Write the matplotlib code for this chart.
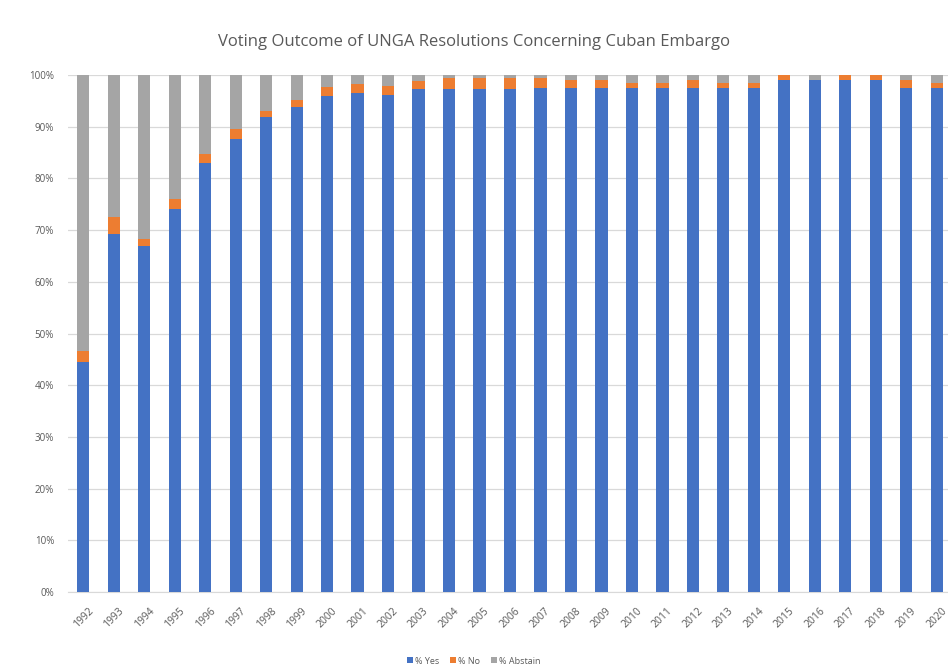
import matplotlib
matplotlib.use("Agg")
import matplotlib.pyplot as plt
import numpy as np

years = [str(y) for y in range(1992, 2021)]
pct_yes = [44.4, 69.3, 66.9, 74.1, 83.0, 87.7, 91.8, 93.9, 96.0, 96.5,
           96.1, 97.3, 97.3, 97.3, 97.3, 97.4, 97.4, 97.4, 97.4, 97.4,
           97.4, 97.4, 97.4, 99.0, 99.0, 99.0, 99.0, 97.4, 97.4]
pct_no = [2.3, 3.3, 1.3, 1.9, 1.8, 1.8, 1.2, 1.2, 1.7, 1.7,
          1.7, 1.6, 2.2, 2.1, 2.1, 2.1, 1.6, 1.6, 1.0, 1.0,
          1.6, 1.0, 1.0, 1.0, 0.0, 1.0, 1.0, 1.6, 1.1]
pct_abstain = [100 - a - b for a, b in zip(pct_yes, pct_no)]

c_yes = "#4472C4"
c_no = "#ED7D31"
c_ab = "#A5A5A5"
txt = "#595959"
plt.rcParams['font.family'] = ['Open Sans', 'DejaVu Sans']

fig = plt.figure(figsize=(9.48, 6.70), dpi=100)
ax = fig.add_axes([68/948, 1-592/670, (952-68)/948, (592-75)/670])

x = np.arange(len(years))
w = 0.4
ax.bar(x, pct_yes, w, color=c_yes, label="% Yes", zorder=3)
ax.bar(x, pct_no, w, bottom=pct_yes, color=c_no, label="% No", zorder=3)
ax.bar(x, pct_abstain, w, bottom=np.array(pct_yes) + np.array(pct_no),
       color=c_ab, label="% Abstain", zorder=3)

ax.set_xlim(-0.5, len(years) - 0.5)
ax.set_ylim(0, 100)
ax.set_yticks(np.arange(0, 101, 10))
ax.set_yticklabels([f"{v}%" for v in range(0, 101, 10)], color=txt, fontsize=7)
ax.set_xticks(x)
ax.set_xticklabels(years, rotation=45, ha="center", color=txt, fontsize=7.5)
ax.tick_params(axis="both", length=0)
ax.tick_params(axis="y", pad=10)
ax.tick_params(axis="x", pad=10)
ax.grid(axis="y", color="#D9D9D9", linewidth=0.9, zorder=0)
for s in ["top", "right", "left"]:
    ax.spines[s].set_visible(False)
ax.spines["bottom"].set_color("#D9D9D9")

fig.text(0.5, 1-42/670, "Voting Outcome of UNGA Resolutions Concerning Cuban Embargo",
         ha="center", va="center", fontsize=12, color=txt)

leg = fig.legend(loc="center", bbox_to_anchor=(0.5, 1-661/670), ncol=3, frameon=False,
                 fontsize=6.5, handlelength=0.6, handleheight=0.6, handletextpad=0.3,
                 columnspacing=1.2)
for t in leg.get_texts():
    t.set_color(txt)

fig.savefig("out.png", dpi=100, facecolor="white")
